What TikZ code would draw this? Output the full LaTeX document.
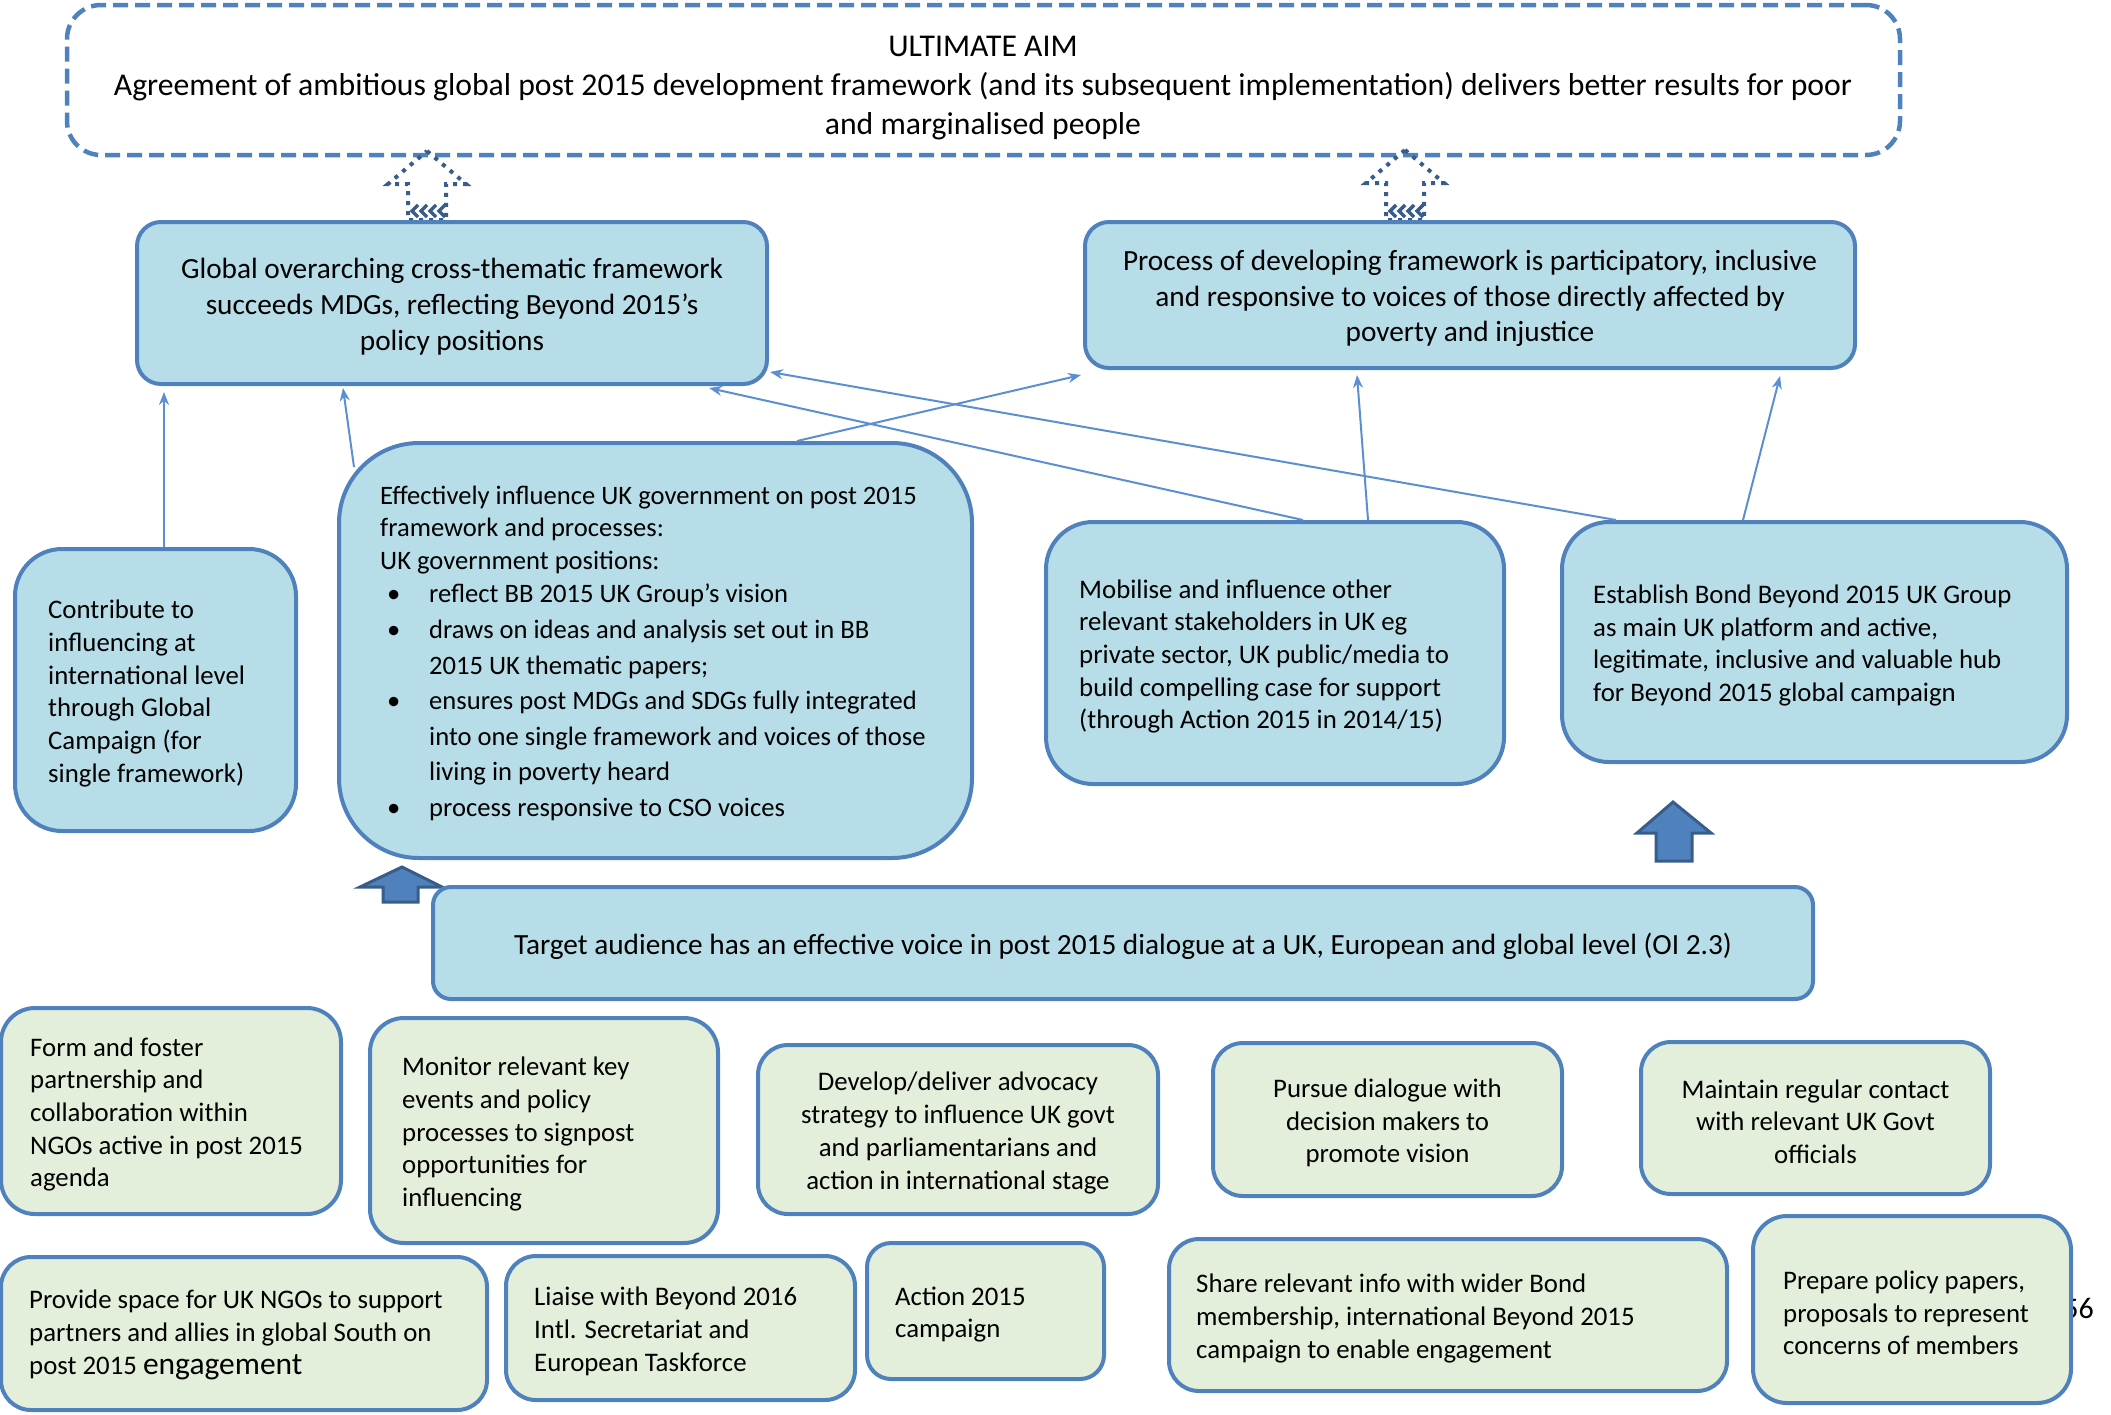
\documentclass[tikz,border=0pt]{standalone}
\usepackage{fontspec}
\setmainfont{Carlito}
\usetikzlibrary{arrows.meta,calc}
\definecolor{bfill}{HTML}{B7DDE8}
\definecolor{bline}{HTML}{4F81BD}
\definecolor{gfill}{HTML}{E3EFDA}
\definecolor{adark}{HTML}{385D8A}
\definecolor{thinc}{HTML}{5B8FD0}
\newcommand\myfA{\fontsize{31.7}{39}\selectfont}
\newcommand\myfB{\fontsize{29.3}{35.7}\selectfont}
\newcommand\myfC{\fontsize{26.8}{32.7}\selectfont}
\newcommand\myfE{\fontsize{26.6}{35.6}\selectfont}
\newcommand\bul{\makebox[49pt][l]{\hspace*{7pt}•}}
\newcommand\ind{\hspace*{49pt}}
\begin{document}
\begin{tikzpicture}[x=1pt,y=-1pt,
  bluebox/.style={draw=bline, fill=bfill, line width=4pt, rounded corners=#1, inner sep=0pt},
  bluebox/.default=24pt,
  greenbox/.style={draw=bline, fill=gfill, line width=4pt, rounded corners=#1, inner sep=0pt},
  greenbox/.default=30pt,
  txt/.style={inner sep=0pt, align=left, anchor=west, font=\myfC},
  ctxt/.style={inner sep=0pt, align=center, font=\myfC},
  aimbox/.style={draw=bline, line width=4.5pt, dash pattern=on 15pt off 7pt, rounded corners=34pt, inner sep=0pt},
  dotarrow/.style={draw=adark, line width=4pt, dash pattern=on 4pt off 6pt},
  zig/.style={draw=adark, line width=3.5pt},
  blockarrow/.style={fill=bline, draw=adark, line width=3pt, line join=miter},
  thinarrow/.style={draw=thinc, line width=2pt, -{Stealth[length=13pt,width=10pt]}}
]
\useasboundingbox (0,0) rectangle (2111,1414);

% ultimate aim
\node[inner sep=0pt, align=center, font=\myfA] (aimtext) at (983,88)
  {ULTIMATE AIM\\Agreement of ambitious global post 2015 development framework (and its subsequent implementation) delivers better results for poor\\and marginalised people};
\node[aimbox, minimum width=1833pt, minimum height=150pt] (aim) at (983.5,80) {};

% dotted arrows
\draw[dotarrow] (427,151) -- (466,184) -- (446,184) -- (446,220) -- (408,220) -- (408,184) -- (388,184) -- cycle;
\foreach \i in {0,1,2,3} \draw[zig] (418+9*\i,205) -- (412+9*\i,211) -- (418+9*\i,217);
\draw[dotarrow] (1405,150) -- (1444,183) -- (1424,183) -- (1424,220) -- (1386,220) -- (1386,183) -- (1366,183) -- cycle;
\foreach \i in {0,1,2,3} \draw[zig] (1396+9*\i,205) -- (1390+9*\i,211) -- (1396+9*\i,217);

% outcome boxes
\node[bluebox, minimum width=630pt, minimum height=162pt] (global) at (452,303) {};
\node[ctxt, font=\myfB] (globalT) at ([shift={(0,3.5)}]global.center)
  {Global overarching cross-thematic framework\\succeeds MDGs, reflecting Beyond 2015’s\\policy positions};
\node[bluebox, minimum width=770pt, minimum height=146pt] (process) at (1470,295) {};
\node[ctxt, font=\myfB] (processT) at ([shift={(0,3.5)}]process.center)
  {Process of developing framework is participatory, inclusive\\and responsive to voices of those directly affected by\\poverty and injustice};

% intermediate boxes
\node[bluebox=47pt, minimum width=281pt, minimum height=282pt] (contrib) at (155.5,690) {};
\node[txt] (contribT) at ([shift={(35,3.5)}]contrib.west)
  {Contribute to\\influencing at\\international level\\through Global\\Campaign (for\\single framework)};

\node[bluebox=80pt, minimum width=633pt, minimum height=415pt] (effect) at (655.5,650.5) {};
\node[txt, font=\myfE] (effectT) at ([shift={(43,3)}]effect.west)
  {Effectively influence UK government on post 2015\\[-3.3pt]framework and processes:\\[-3.3pt]UK government positions:\\[-1.9pt]
   \bul reflect BB 2015 UK Group’s vision\\
   \bul draws on ideas and analysis set out in BB\\
   \ind 2015 UK thematic papers;\\
   \bul ensures post MDGs and SDGs fully integrated\\
   \ind into one single framework and voices of those\\
   \ind living in poverty heard\\
   \bul process responsive to CSO voices};

\node[bluebox=47pt, minimum width=458pt, minimum height=262pt] (mobil) at (1275,653) {};
\node[txt] (mobilT) at ([shift={(35,3.5)}]mobil.west)
  {Mobilise and influence other\\relevant stakeholders in UK eg\\private sector, UK public/media to\\build compelling case for support\\(through Action 2015 in 2014/15)};

\node[bluebox=47pt, minimum width=505pt, minimum height=240pt] (estab) at (1814.5,642) {};
\node[txt] (estabT) at ([shift={(33,3.5)}]estab.west)
  {Establish Bond Beyond 2015 UK Group\\as main UK platform and active,\\legitimate, inclusive and valuable hub\\for Beyond 2015 global campaign};

% block arrows
\draw[blockarrow] (402,867) -- (442,887) -- (418,887) -- (418,902) -- (383,902) -- (383,887) -- (360,887) -- cycle;
\draw[blockarrow] (1673,802) -- (1711,833) -- (1692,833) -- (1692,861) -- (1656,861) -- (1656,833) -- (1637,833) -- cycle;

% target
\node[bluebox=18pt, minimum width=1380pt, minimum height=112pt] (target) at (1123,943) {};
\node[ctxt, font=\myfB] (targetT) at ([shift={(0,3)}]target.center)
  {Target audience has an effective voice in post 2015 dialogue at a UK, European and global level (OI 2.3)};

% thin connectors
\draw[thinarrow] ([xshift=8.5pt]contrib.north) -- ([shift={(-288,6)}]global.south);
\draw[thinarrow] ([shift={(-301.5,26)}]effect.north) -- ([shift={(-109,2)}]global.south);
\draw[thinarrow] ([shift={(141.5,0)}]effect.north) -- ([shift={(-389,5)}]process.south);
\draw[thinarrow] ([shift={(28,0)}]mobil.north) -- ([shift={(257,2)}]global.south);
\draw[thinarrow] ([shift={(93,0)}]mobil.north) -- ([shift={(-113,5)}]process.south);
\draw[thinarrow] ([shift={(-198.5,0)}]estab.north) -- ([shift={(318,-14)}]global.south);
\draw[thinarrow] ([shift={(-71.5,0)}]estab.north) -- ([shift={(310,6)}]process.south);

% activities
\node[greenbox=34pt, minimum width=340pt, minimum height=206pt] (g1) at (171,1111) {};
\node[txt] (g1T) at ([shift={(31,3.5)}]g1.west)
  {Form and foster\\partnership and\\collaboration within\\NGOs active in post 2015\\agenda};
\node[greenbox=34pt, minimum width=348pt, minimum height=225pt] (g2) at (544,1130.5) {};
\node[txt] (g2T) at ([shift={(34,3.5)}]g2.west)
  {Monitor relevant key\\events and policy\\processes to signpost\\opportunities for\\influencing};
\node[greenbox, minimum width=400pt, minimum height=169pt] (g3) at (958,1129.5) {};
\node[ctxt] (g3T) at ([shift={(0,3.5)}]g3.center)
  {Develop/deliver advocacy\\strategy to influence UK govt\\and parliamentarians and\\action in international stage};
\node[greenbox, minimum width=349pt, minimum height=153pt] (g4) at (1387.5,1119.5) {};
\node[ctxt] (g4T) at ([shift={(0,3.5)}]g4.center)
  {Pursue dialogue with\\decision makers to\\promote vision};
\node[greenbox, minimum width=349pt, minimum height=152pt] (g5) at (1815.5,1118) {};
\node[ctxt] (g5T) at ([shift={(0,3.5)}]g5.center)
  {Maintain regular contact\\with relevant UK Govt\\officials};

\node[greenbox, minimum width=486pt, minimum height=153pt] (g6) at (244,1333.5) {};
\node[txt] (g6T) at ([shift={(30,1.5)}]g6.west)
  {Provide space for UK NGOs to support\\partners and allies in global South on\\post 2015 {\fontsize{31.5}{36}\selectfont engagement}};
\node[greenbox, minimum width=349pt, minimum height=144pt] (g7) at (680.5,1328) {};
\node[txt] (g7T) at ([shift={(30,3.5)}]g7.west)
  {Liaise with Beyond 2016\\Intl. Secretariat and\\European Taskforce};
\node[greenbox=24pt, minimum width=237pt, minimum height=136pt] (g8) at (985.5,1311) {};
\node[txt] (g8T) at ([shift={(30,3.5)}]g8.west) {Action 2015\\campaign};
\node[greenbox, minimum width=558pt, minimum height=152pt] (g9) at (1448,1315) {};
\node[txt] (g9T) at ([shift={(29,3.5)}]g9.west)
  {Share relevant info with wider Bond\\membership, international Beyond 2015\\campaign to enable engagement};

\node[inner sep=0pt, anchor=east, font=\fontsize{30}{36}\selectfont] (pagenum) at (2094,1308) {56};
\node[greenbox=34pt, minimum width=318pt, minimum height=187pt] (g10) at (1912,1309.5) {};
\node[txt] (g10T) at ([shift={(32,3.5)}]g10.west)
  {Prepare policy papers,\\proposals to represent\\concerns of members};
\end{tikzpicture}
\end{document}
